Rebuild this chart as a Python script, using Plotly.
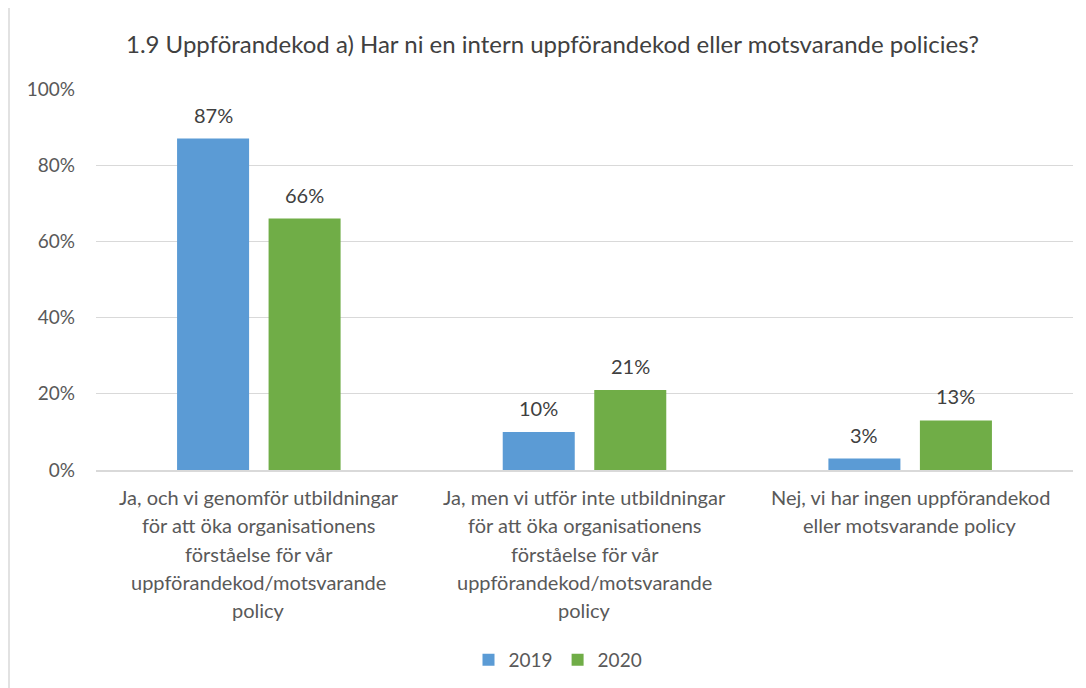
import plotly.graph_objects as go

categories = [
    "Ja, och vi genomför utbildningar<br>för att öka organisationens<br>förståelse för vår<br>uppförandekod/motsvarande<br>policy",
    "Ja, men vi utför inte utbildningar<br>för att öka organisationens<br>förståelse för vår<br>uppförandekod/motsvarande<br>policy",
    "Nej, vi har ingen uppförandekod<br>eller motsvarande policy",
]
values_2019 = [87, 10, 3]
values_2020 = [66, 21, 13]
series_names = ["2019", "2020"]
colors = ["#5B9BD5", "#70AD47"]
tick_vals = [0, 20, 40, 60, 80, 100]
tick_text = ["0%", "20%", "40%", "60%", "80%", "100%"]

FONT = "Lato, Carlito, 'Open Sans', sans-serif"
TXT = "#595959"

OFF = 8  # page body offset
fig = go.Figure()
for name, vals, col in zip(series_names, [values_2019, values_2020], colors):
    fig.add_trace(go.Bar(x=categories, y=vals, name=name, marker_color=col,
                         marker_line_width=0))

annotations = []
for i, vals in enumerate([values_2019, values_2020]):
    shift = -45.75 if i == 0 else 45.75
    for c, v in zip(categories, vals):
        annotations.append(dict(x=c, y=v, xref="x", yref="y", text=f"{v}%",
                                showarrow=False, xshift=shift, yshift=24,
                                font=dict(family=FONT, size=20, color="#404040")))

# category labels, one annotation per line for Excel-like line spacing
for c in categories:
    for j, line in enumerate(c.split("<br>")):
        annotations.append(dict(x=c, y=0, xref="x", yref="paper", text=line,
                                showarrow=False, yanchor="middle",
                                yshift=-(27 + j * 28.3),
                                font=dict(family=FONT, size=20, color=TXT)))

W, H = 1086, 688
l, t = 96 - OFF, 89 - OFF
pw, ph = 977, 381
r, b = W - l - pw, H - t - ph

def px_x(x):
    return (x - OFF - l) / pw

def px_y(y):
    return (t + ph - (y - OFF)) / ph

fig.update_layout(
    width=W, height=H,
    margin=dict(l=l, r=r, t=t, b=b),
    paper_bgcolor="white", plot_bgcolor="white",
    barmode="group", bargap=0.438, bargroupgap=0.213,
    title=dict(text="1.9 Uppförandekod a) Har ni en intern uppförandekod eller motsvarande policies?",
               x=(552.5 - OFF) / W, xanchor="center", y=1 - (45 - OFF) / H, yanchor="middle",
               font=dict(family=FONT, size=24, color="#404040")),
    font=dict(family=FONT, color=TXT),
    xaxis=dict(showgrid=False, showline=True, linecolor="#D9D9D9", linewidth=1.5,
               ticks="", showticklabels=False),
    yaxis=dict(range=[0, 100], tickvals=tick_vals, ticktext=tick_text,
               showgrid=True, gridcolor="#D9D9D9", gridwidth=1.2,
               zeroline=False, showline=False, ticks="", ticklabelstandoff=20,
               tickfont=dict(family=FONT, size=19, color=TXT)),
    legend=dict(orientation="h", x=px_x(558), xanchor="center", y=px_y(660), yanchor="middle",
                font=dict(family=FONT, size=19, color=TXT), itemwidth=30,
                traceorder="normal"),
    annotations=annotations,
    shapes=[dict(type="rect", xref="paper", yref="paper",
                 x0=px_x(9), x1=px_x(1100), y0=px_y(700), y1=px_y(7),
                 line=dict(color="#D9D9D9", width=1.5), layer="below")],
)

fig.write_html("out.html")
